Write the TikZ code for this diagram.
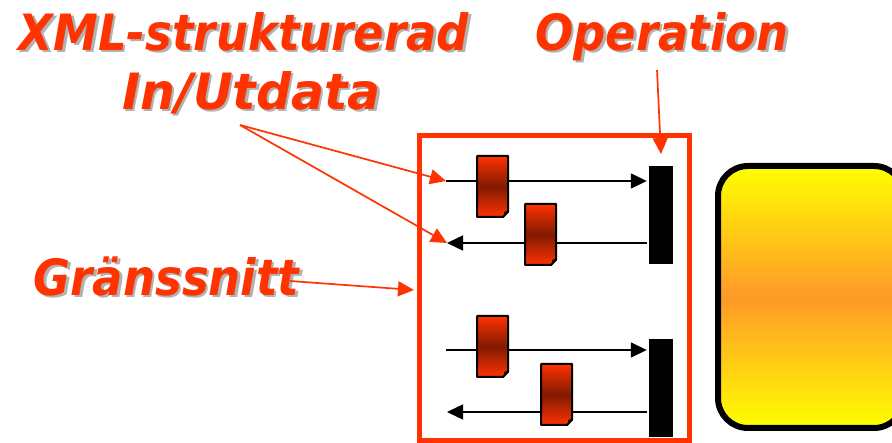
\documentclass[tikz,border=0pt]{standalone}
\usepackage{fontspec}
\newfontfamily\headfont[FakeStretch=0.9]{DejaVu Sans}
\newfontfamily\widefont[FakeStretch=0.98]{DejaVu Sans}
\usetikzlibrary{arrows.meta}

\definecolor{red1}{RGB}{255,51,0}
\definecolor{red3}{RGB}{128,26,0}
\definecolor{gold1}{RGB}{255,153,41}
\tikzset{
  headline/.style={font=\fontsize{50}{50}\headfont\bfseries\itshape,text=red1,anchor=base,inner sep=0pt},
  headshade/.style={headline,text=black!30},
  wideline/.style={font=\fontsize{50}{50}\widefont\bfseries\itshape,anchor=base,inner sep=0pt},
  redarrow/.style={draw=red1,line width=1.7pt,-{Triangle[length=16pt,width=15pt]}},
  flowarrow/.style={draw=black,line width=1.5pt,-{Triangle[length=16pt,width=15pt]}},
  opbar/.style={fill=black,draw=none,minimum width=24pt,minimum height=98pt,inner sep=0pt},
  docsheet/.style={draw=black,line width=2pt,line join=round,top color=red1,bottom color=red1,middle color=red3}
}
%% #1 = name, #2 = x of left side, #3 = y of top side
\newcommand{\docsheet}[3]{
  \shade[docsheet] (#2,#3) -- ++(31,0) -- ++(0,56) -- ++(-5,5) -- ++(-26,0) -- cycle;
  \fill[black] (#2+31,#3+55) -- ++(-4,1) -- ++(0,5) -- cycle;
  \coordinate (#1) at (#2+15.5,#3+30.5);
}

\begin{document}
\begin{tikzpicture}[x=1pt,y=-1pt]

\useasboundingbox (0,0) rectangle (892,443);

%% texts
\node[headshade] (xmlshade) at (246.5,53) {XML-strukturerad};
\node[headline] (xml) at (244,51) {XML-strukturerad};
\node[wideline,text=black!30] (inutshade) at (254,112) {In/Utdata};
\node[wideline,text=red1] (inut) at (251.5,110) {In/Utdata};
\node[headshade] (opshade) at (664.5,53) {Operation};
\node[headline] (op) at (662,51) {Operation};
\node[headshade] (granshade) at (169,298) {Gränssnitt};
\node[headline] (gran) at (166.5,296) {Gränssnitt};

%% frame and yellow box
\node[draw=red1,line width=5pt,minimum width=270.5pt,minimum height=305.5pt,inner sep=0pt] (frame) at (554.25,288.25) {};
\node[draw=black,line width=6pt,rounded corners=30pt,minimum width=186pt,minimum height=262pt,inner sep=0pt,
  top color=yellow,bottom color=yellow,middle color=gold1] (service) at (811,297) {};

%% operations
\node[opbar] (opa) at (661,215) {};
\node[opbar] (opb) at (661,388) {};

%% flows
\coordinate (ina) at (446,181);
\coordinate (outa) at (447,243);
\coordinate (inb) at (446,350);
\coordinate (outb) at (447,412);
\draw[flowarrow] (ina) -- ([xshift=-2pt]opa.west |- ina);
\draw[flowarrow] ([xshift=-2pt]opa.west |- outa) -- (outa);
\draw[flowarrow] (inb) -- ([xshift=-2pt]opb.west |- inb);
\draw[flowarrow] ([xshift=-2pt]opb.west |- outb) -- (outb);

%% documents
\docsheet{doca}{477}{156}
\docsheet{docb}{525}{204}
\docsheet{docc}{477}{316}
\docsheet{docd}{541}{364}

%% red arrows
\coordinate (xmlfoot) at (240,125);
\coordinate (opfoot) at (657,70);
\coordinate (ganfoot) at (290,281);
\draw[redarrow] (xmlfoot) -- (ina);
\draw[redarrow] (xmlfoot) -- (outa);
\draw[redarrow] (opfoot) -- (661,154);
\draw[redarrow] (ganfoot) -- (414,290);

\end{tikzpicture}
\end{document}
